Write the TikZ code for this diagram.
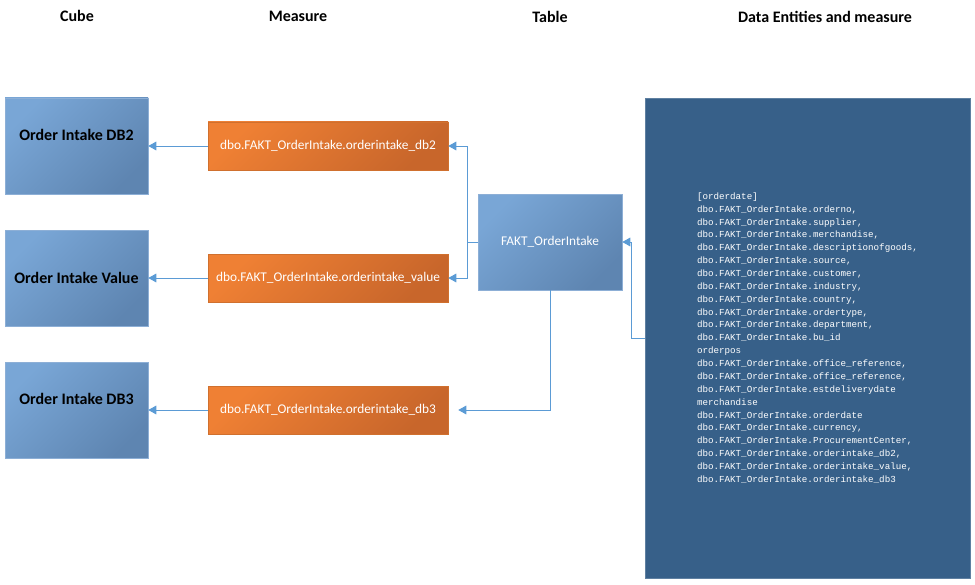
\documentclass[tikz,border=0pt]{standalone}
\usepackage{fontspec}
\setmainfont{Carlito}
\newfontfamily\monodados{Liberation Mono}
\usetikzlibrary{arrows.meta}
\definecolor{cuboA}{HTML}{79A6D6}
\definecolor{cuboB}{HTML}{5E85B1}
\definecolor{bordaCubo}{HTML}{8DAFD6}
\definecolor{laranjaA}{HTML}{EF8034}
\definecolor{laranjaB}{HTML}{C8662B}
\definecolor{bordaLaranja}{HTML}{D0702E}
\definecolor{dados}{HTML}{376089}
\definecolor{seta}{HTML}{5B9BD5}
\newcommand{\fakt}{dbo.FAKT\_OrderIntake.}
\tikzset{
 titulo/.style={font=\bfseries\fontsize{12pt}{14pt}\selectfont},
 cubo/.style={draw=bordaCubo, top color=cuboA, bottom color=cuboB, shading angle=45,
  minimum width=107.25pt, minimum height=72pt, font=\bfseries\fontsize{12pt}{14pt}\selectfont},
 medida/.style={draw=bordaLaranja, top color=laranjaA, bottom color=laranjaB, shading angle=45,
  minimum width=180pt, minimum height=36pt, text=white, font=\fontsize{10pt}{12pt}\selectfont},
 conector/.style={draw=seta, line width=0.75pt, -{Triangle[length=6pt,width=6.5pt]}}
}
\begin{document}
\begin{tikzpicture}[x=0.75pt,y=-0.75pt]
%moldura com o tamanho da figura
 \useasboundingbox (0,0) rectangle (975,585);
%títulos das colunas
 \node[titulo] (tCubo) at (77,16) {Cube};
 \node[titulo] (tMedida) at (298,16) {Measure};
 \node[titulo] (tTabela) at (550,17) {Table};
 \node[titulo] (tDados) at (825,17) {Data Entities and measure};
%cubos
 \node[cubo, text depth=16pt] (db2) at (76.5,146) {Order Intake DB2};
 \node[cubo] (valor) at (76.5,278) {Order Intake Value};
 \node[cubo, text depth=16pt] (db3) at (76.5,410) {Order Intake DB3};
%medidas
 \node[medida] (mDb2) at (328,146) {dbo.FAKT\_OrderIntake.orderintake\_db2};
 \node[medida] (mValor) at (328,278) {dbo.FAKT\_OrderIntake.orderintake\_value};
 \node[medida] (mDb3) at (328,410) {dbo.FAKT\_OrderIntake.orderintake\_db3};
%tabela
 \node[cubo, font=\fontsize{10pt}{12pt}\selectfont, text=white, minimum width=108pt] (tabela) at (550,242) {FAKT\_OrderIntake};
%entidades de dados
 \node[fill=dados, draw=dados!80!white, text=white, minimum width=243.75pt, minimum height=360pt,
  align=left, font=\monodados\fontsize{6.9pt}{9.65pt}\selectfont] (dados) at (807.5,338) {{[orderdate]}\\
\fakt orderno,\\
\fakt supplier,\\
\fakt merchandise,\\
\fakt descriptionofgoods,\\
\fakt source,\\
\fakt customer,\\
\fakt industry,\\
\fakt country,\\
\fakt ordertype,\\
\fakt department,\\
\fakt bu\_id\\
orderpos\\
\fakt office\_reference,\\
\fakt office\_reference,\\
\fakt estdeliverydate\\
merchandise\\
\fakt orderdate\\
\fakt currency,\\
\fakt ProcurementCenter,\\
\fakt orderintake\_db2,\\
\fakt orderintake\_value,\\
\fakt orderintake\_db3};
%setas
 \draw[conector] (mDb2.west) -- (db2.east);
 \draw[conector] (mValor.west) -- (valor.east);
 \draw[conector] (mDb3.west) -- (db3.east);
 \draw[conector] (tabela.west) -- ++(-10,0) |- (mDb2.east);
 \draw[conector] (tabela.west) -- ++(-10,0) |- (mValor.east);
 \draw[conector, shorten >=7.5pt] (tabela.south) |- (mDb3.east);
 \draw[conector] (dados.west) -- ++(-13,0) |- (tabela.east);
\end{tikzpicture}
\end{document}
